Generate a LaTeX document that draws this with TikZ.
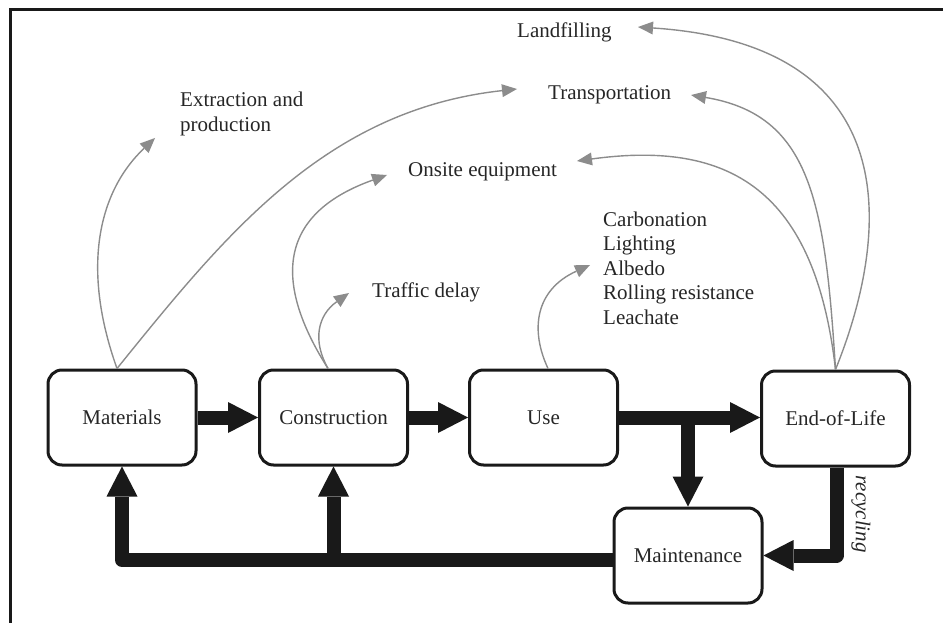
\documentclass[tikz,border=0pt]{standalone}
\usepackage{fontspec}
\setmainfont{Liberation Serif}
\usetikzlibrary{arrows.meta}
\begin{document}
\begin{tikzpicture}[x=1pt,y=-1pt,
  stage/.style={draw=black!90, line width=3pt, rounded corners=14pt, minimum width=148pt, minimum height=95pt, font=\fontsize{21}{25}\selectfont, text=black!85},
  lbl/.style={inner sep=0pt, anchor=base west, font=\fontsize{21}{24.5}\selectfont, text=black!85},
  flow/.style={line width=14pt, draw=black!90, line join=round, -{Triangle[length=30pt,width=31pt,line width=0pt]}},
  effect/.style={line width=1.4pt, draw=black!45, -{Triangle[length=15pt,width=13pt,line width=0pt]}}]
\useasboundingbox (0,0) rectangle (943,623);
% frame
\draw[line width=2.5pt, black!90] (10.3,623) -- (10.3,9.5) -- (943,9.5);

% stages
\node[stage] (mat) at (122,417.5) {Materials};
\node[stage] (con) at (333.5,417.5) {Construction};
\node[stage] (use) at (543.5,417.5) {Use};
\node[stage] (eol) at (835.5,418.5) {End-of-Life};
\node[stage] (mnt) at (688,555.5) {Maintenance};

% labels
\node[lbl] (extr) at (180,107) {\begin{tabular}[t]{@{}l@{}}Extraction and\\production\end{tabular}};
\node[lbl] (land) at (517,38) {Landfilling};
\node[lbl] (trans) at (548,100) {Transportation};
\node[lbl] (onsite) at (408,177) {Onsite equipment};
\node[lbl] (traffic) at (372,297) {Traffic delay};
\node[lbl] (uselist) at (603,226) {\begin{tabular}[t]{@{}l@{}}Carbonation\\Lighting\\Albedo\\Rolling resistance\\Leachate\end{tabular}};
\node[inner sep=0pt, rotate=-90, font=\fontsize{21}{25}\selectfont\itshape, text=black!85] (recyc) at (861,514) {recycling};

% tips of the effect arrows
\coordinate (tExtr) at (155,138);
\coordinate (tTransM) at (517,89);
\coordinate (tOnsC) at (387,175);
\coordinate (tTraf) at (349,293);
\coordinate (tUse) at (590,265);
\coordinate (tOnsE) at (577,161);
\coordinate (tTransE) at (691,95);
\coordinate (tLand) at (638,27);

% effect arrows
\draw[effect] ([xshift=-5pt]mat.north) .. controls (80,265) and (100,190) .. (tExtr);
\draw[effect] ([xshift=-5pt]mat.north) .. controls (225,235) and (325,110) .. (tTransM);
\draw[effect] ([xshift=-5.5pt]con.north) .. controls (275,285) and (275,215) .. (tOnsC);
\draw[effect] ([xshift=-5.5pt]con.north) .. controls (312,340) and (318,315) .. (tTraf);
\draw[effect] ([xshift=4.5pt]use.north) .. controls (530,330) and (535,290) .. (tUse);
\draw[effect] (eol.north) .. controls (815,190) and (730,140) .. (tOnsE);
\draw[effect] (eol.north) .. controls (825,200) and (810,115) .. (tTransE);
\draw[effect] (eol.north) .. controls (888,240) and (912,45) .. (tLand);

% main flows
\coordinate (yb) at (0,560);
\draw[flow] (mat.east) -- (con.west);
\draw[flow] (con.east) -- (use.west);
\draw[flow] (use.east) -- (use.east -| eol.west);
\draw[flow] (use.east -| mnt.north) -- (mnt.north);
\draw[flow] ([xshift=1pt]eol.south) |- (mnt.east);
\draw[flow] (mnt.west |- yb) -| (mat.south);
\draw[flow] (con.south |- yb) -- (con.south);
\end{tikzpicture}
\end{document}
